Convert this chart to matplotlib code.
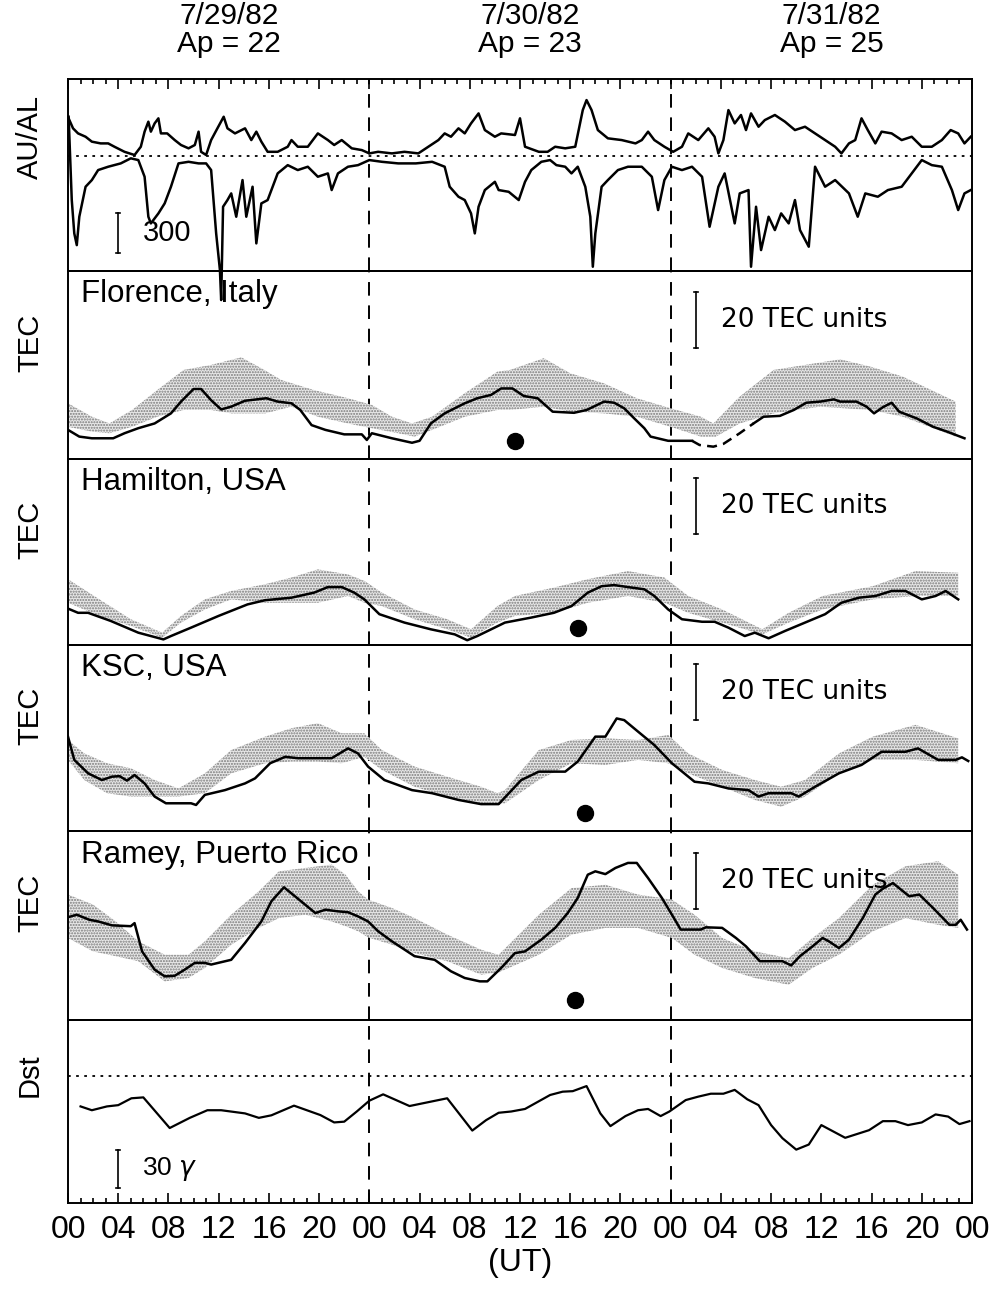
"""Auroral indices, TEC at four stations and Dst, 29-31 July 1982."""

import numpy as np
import matplotlib
matplotlib.use("Agg")
import matplotlib.pyplot as plt

# --- header ---
DAYS = ["7/29/82", "7/30/82", "7/31/82"]
AP = [22, 23, 25]

# --- AU / AL (nT), hours from 00 UT 7/29 ---
AU_H = [0.05, 0.4, 0.8, 1.4, 1.9, 2.6, 3.2, 3.7, 4.5, 5.3,
        5.8, 6.1, 6.4, 6.6, 6.9, 7.2, 7.4, 7.9, 8.5, 9.0,
        9.6, 10.1, 10.4, 10.6, 11.0, 11.4, 11.9, 12.4, 12.7, 13.3,
        14.1, 14.6, 15.0, 15.4, 15.9, 16.7, 17.5, 17.8, 18.3, 19.1,
        19.9, 20.7, 21.2, 21.8, 22.6, 23.4, 24.0, 24.7, 25.8, 26.8,
        27.9, 28.7, 29.5, 30.0, 30.5, 31.1, 31.6, 32.1, 32.7, 33.2,
        34.0, 34.5, 35.6, 36.0, 36.4, 37.5, 38.2, 38.8, 39.6, 40.4,
        41.0, 41.3, 41.7, 42.2, 43.0, 44.1, 45.2, 45.7, 46.2, 46.7,
        47.5, 48.2, 48.9, 49.4, 50.2, 51.0, 51.5, 51.8, 52.2, 52.6,
        53.1, 53.6, 54.0, 54.4, 55.0, 55.5, 56.3, 57.1, 57.9, 58.7,
        59.5, 60.3, 61.1, 61.6, 62.2, 62.7, 63.2, 63.7, 64.3, 64.8,
        65.6, 66.4, 67.2, 68.0, 68.8, 69.6, 70.3, 70.9, 71.4, 71.9]
AU_NT = [283, 208, 170, 145, 108, 95, 95, 70, 32, 8,
         70, 183, 258, 183, 245, 283, 170, 170, 120, 83,
         58, 83, 183, 32, 8, 120, 208, 295, 208, 170,
         208, 120, 183, 108, 32, 32, 70, 120, 70, 70,
         170, 120, 83, 120, 58, 45, 20, 32, 20, 32,
         20, 70, 120, 170, 145, 208, 170, 245, 320, 195,
         145, 170, 158, 283, 70, 32, 32, 70, 58, 70,
         345, 420, 345, 195, 133, 120, 95, 120, 183, 120,
         70, 32, 70, 170, 120, 208, 145, 20, 120, 345,
         245, 308, 195, 320, 220, 270, 308, 258, 195, 220,
         170, 120, 70, 20, 95, 120, 283, 195, 95, 183,
         170, 120, 145, 70, 70, 120, 195, 170, 95, 145]

AL_H = [0.05, 0.3, 0.5, 0.7, 0.9, 1.4, 1.9, 2.4, 3.2, 4.2,
        5.0, 5.6, 6.1, 6.4, 6.6, 7.2, 7.7, 8.2, 8.8, 9.6,
        10.4, 11.0, 11.4, 11.8, 12.1, 12.2, 12.35, 12.7, 13.0, 13.4,
        13.9, 14.2, 14.7, 15.0, 15.4, 15.9, 16.7, 17.5, 18.3, 19.1,
        19.9, 20.7, 21.0, 21.5, 22.3, 23.1, 24.0, 25.0, 26.3, 27.7,
        29.0, 30.0, 30.4, 31.1, 31.6, 32.1, 32.4, 32.7, 33.2, 34.0,
        34.3, 35.1, 35.9, 36.4, 36.9, 37.7, 38.4, 38.9, 39.6, 40.1,
        40.6, 41.2, 41.6, 41.8, 42.0, 42.5, 43.0, 43.8, 44.6, 45.7,
        46.5, 47.0, 47.5, 48.1, 48.9, 49.7, 50.5, 51.1, 51.8, 52.3,
        53.1, 53.5, 54.2, 54.4, 54.8, 55.2, 55.8, 56.3, 56.8, 57.4,
        57.9, 58.3, 59.0, 59.5, 60.3, 61.1, 62.2, 62.9, 63.5, 64.5,
        65.3, 66.4, 67.2, 68.0, 68.8, 69.6, 70.4, 70.9, 71.4, 71.9]
AL_NT = [295, -330, -580, -668, -455, -230, -180, -105, -80, -55,
         -17, -30, -155, -455, -505, -430, -355, -230, -55, -43,
         -55, -55, -105, -580, -855, -1080, -380, -330, -280, -455,
         -180, -455, -230, -655, -355, -330, -130, -68, -105, -80,
         -155, -130, -255, -130, -80, -68, -30, -43, -55, -55,
         -43, -80, -230, -305, -330, -430, -580, -380, -255, -193,
         -255, -268, -330, -193, -105, -43, -30, -68, -80, -130,
         -80, -230, -455, -830, -580, -230, -180, -105, -80, -80,
         -155, -405, -180, -80, -105, -80, -155, -530, -230, -130,
         -505, -280, -255, -830, -380, -705, -455, -555, -430, -505,
         -330, -555, -680, -80, -230, -180, -280, -455, -280, -305,
         -255, -230, -130, -30, -68, -80, -255, -405, -280, -255]

# --- TEC (TEC units above panel floor) ---
FLOR_H = [0, 0.9, 1.9, 3.6, 4.5, 5.6, 6.9, 8.2, 9.0, 10.0,
          10.6, 11.4, 12.2, 13.0, 14.1, 15.8, 16.7, 17.8, 18.5, 19.4,
          20.5, 22.0, 23.4, 23.8, 24.2, 25.8, 27.4, 28.0, 28.9, 30.0,
          31.6, 32.6, 33.7, 34.5, 35.4, 36.3, 37.4, 38.6, 40.3, 41.3,
          42.7, 43.5, 44.3, 45.1, 45.9, 46.4, 47.8, 49.7, 50.3, 51.4,
          52.2, 53.5, 54.6, 55.4, 56.7, 57.8, 58.8, 59.9, 61.0, 61.5,
          62.8, 63.6, 64.2, 64.9, 65.6, 66.2, 67.6, 68.9, 70.0, 71.4]
FLOR_TEC = [10.4, 8.0, 7.4, 7.4, 9.2, 11.0, 12.7, 16.3, 20.5, 25.0,
            25.0, 21.0, 17.7, 18.7, 20.8, 21.7, 20.5, 19.9, 17.5, 12.1,
            10.4, 8.8, 8.8, 6.8, 9.2, 7.4, 5.8, 6.5, 12.7, 16.3,
            19.9, 21.7, 22.9, 25.2, 25.2, 22.5, 21.7, 16.9, 16.5, 17.5,
            20.5, 20.1, 18.1, 14.5, 11.0, 8.0, 6.5, 6.5, 5.0, 4.4,
            5.4, 9.2, 12.7, 15.1, 15.4, 17.5, 20.1, 20.5, 21.3, 20.5,
            20.5, 18.7, 16.3, 18.5, 20.1, 16.9, 14.5, 11.5, 9.8, 7.4]
FLOR_DASHED = (49.7, 54.6)
FLOR_TOP_H = [0, 1.9, 3.3, 5.1, 7.1, 9.2, 11.4, 13.8, 15.4, 17.0, 19.6,
              22.3, 24.2, 25.8, 27.4, 29.0, 31.6, 34.2, 35.2, 37.9, 40.0,
              42.7, 45.3, 48.0, 50.4, 51.4, 53.5, 56.2, 61.5, 63.9, 66.5, 70.7]
FLOR_TOP = [19.9, 15.1, 12.7, 17.5, 24.6, 31.8, 33.6, 36.3, 32.4, 28.2, 24.6,
            21.7, 19.3, 15.1, 12.7, 15.1, 23.5, 31.2, 31.8, 36.0, 30.6,
            27.0, 21.7, 18.1, 15.1, 12.7, 22.3, 31.8, 35.6, 33.0, 29.4, 20.5]
FLOR_BOT_H = [0, 1.9, 3.3, 5.1, 7.1, 9.2, 11.4, 13.0, 15.7, 17.8, 19.9,
              22.3, 24.2, 26.3, 27.6, 29.0, 31.6, 34.2, 35.2, 37.9, 40.0,
              42.7, 45.3, 48.0, 50.4, 51.6, 53.5, 56.2, 59.9, 63.9, 66.5, 70.7]
FLOR_BOT = [11.5, 9.8, 9.2, 11.5, 15.1, 17.5, 17.5, 16.3, 16.3, 18.7, 15.1,
            12.7, 11.0, 9.2, 8.0, 10.4, 15.1, 17.5, 17.5, 18.7, 16.9,
            16.3, 15.1, 11.5, 8.0, 8.0, 12.7, 16.3, 18.7, 17.5, 15.1, 8.0]

HAM_H = [0, 0.8, 1.6, 3.4, 5.6, 7.6, 8.2, 9.8, 12.0, 14.3,
         15.7, 17.8, 19.6, 20.7, 21.8, 22.8, 23.6, 24.8, 26.8, 28.9,
         30.8, 31.8, 32.6, 34.8, 36.9, 38.7, 40.1, 41.4, 42.5, 43.5,
         44.9, 45.9, 46.7, 47.8, 48.9, 50.5, 51.5, 52.6, 53.9, 54.7,
         55.8, 57.1, 58.7, 60.3, 61.6, 63.0, 64.3, 65.6, 66.7, 68.0,
         69.1, 69.9, 70.9]
HAM_TEC = [13.0, 11.5, 11.5, 8.6, 4.4, 2.0, 3.2, 6.2, 10.4, 14.5,
           16.0, 16.9, 18.7, 20.7, 20.7, 18.7, 16.3, 11.0, 8.0, 5.6,
           3.8, 1.7, 3.2, 8.0, 9.8, 11.5, 13.9, 18.7, 21.0, 21.4,
           20.5, 19.9, 17.5, 12.7, 9.2, 8.3, 8.3, 6.2, 3.2, 4.4,
           2.4, 5.0, 8.0, 11.0, 15.1, 16.9, 17.5, 19.3, 19.3, 16.3,
           17.5, 19.3, 16.3]
HAM_BAND_H = [0, 2.5, 5.0, 7.5, 9.0, 10.9, 13.0, 15.7, 17.8, 19.9,
              22.3, 23.6, 25.0, 27.6, 30.2, 32.1, 34.2, 35.6, 38.7, 41.4,
              44.6, 47.5, 49.4, 52.1, 55.3, 57.4, 60.1, 64.1, 67.5, 70.9]
HAM_TOP = [23.5, 16.3, 9.2, 4.4, 10.4, 16.3, 19.3, 21.7, 24.1, 27.0,
           25.2, 22.9, 18.7, 12.7, 9.2, 5.6, 13.9, 17.5, 20.5, 23.5,
           26.4, 24.1, 17.5, 12.7, 5.6, 11.5, 17.5, 21.0, 26.4, 25.8]
HAM_BOT = [15.1, 10.4, 6.8, 2.6, 8.0, 12.7, 16.3, 15.1, 15.1, 15.1,
           17.5, 15.1, 13.9, 9.2, 5.6, 2.6, 8.0, 10.4, 11.5, 15.1,
           17.5, 15.1, 11.5, 8.0, 3.8, 8.0, 12.7, 16.3, 17.5, 17.5]

KSC_H = [0, 0.5, 1.6, 2.7, 3.5, 4.1, 4.7, 5.3, 6.1, 6.9,
         7.8, 9.8, 10.2, 10.9, 12.5, 14.1, 14.9, 16.1, 17.3, 18.3,
         21.0, 22.3, 23.1, 23.9, 25.2, 27.4, 29.0, 31.1, 32.9, 34.3,
         36.1, 37.5, 39.6, 40.6, 42.0, 42.8, 43.7, 44.3, 45.4, 46.7,
         48.1, 49.9, 51.0, 52.6, 54.2, 55.0, 55.8, 57.6, 58.2, 59.5,
         61.4, 63.2, 64.8, 66.7, 67.7, 69.3, 70.7, 71.2, 71.7]
KSC_TEC = [33.7, 25.4, 20.6, 18.2, 19.4, 19.6, 18.0, 20.0, 17.0, 12.3,
           9.9, 9.9, 9.3, 12.9, 14.6, 17.0, 18.8, 24.2, 26.5, 26.0,
           26.0, 29.5, 27.7, 23.0, 18.2, 14.6, 13.5, 11.1, 9.6, 9.6,
           18.2, 21.2, 21.2, 24.8, 33.7, 33.7, 40.2, 39.6, 35.5, 30.7,
           24.2, 17.6, 17.0, 15.2, 14.6, 12.3, 13.5, 13.5, 12.3, 15.8,
           20.6, 23.6, 28.3, 28.3, 29.5, 25.4, 25.4, 26.3, 25.0]
KSC_BAND_H = [0, 1.3, 3.1, 5.0, 6.9, 8.8, 10.9, 13.0, 15.7, 17.8,
              19.9, 21.8, 23.6, 25.0, 27.6, 30.2, 32.9, 34.2, 34.8, 37.5,
              40.1, 42.8, 45.4, 47.8, 49.4, 52.1, 54.7, 56.8, 58.7, 61.4,
              64.1, 67.5, 70.9]
KSC_TOP = [32.5, 27.7, 24.2, 22.4, 18.2, 15.2, 20.6, 28.9, 33.7, 36.7,
           38.5, 34.9, 34.9, 28.9, 23.0, 19.4, 15.8, 13.5, 14.6, 28.9,
           32.5, 33.1, 32.5, 34.3, 27.7, 21.8, 18.2, 15.8, 18.2, 27.7,
           33.7, 37.9, 33.1]
KSC_BOT = [25.4, 18.2, 13.5, 12.3, 12.3, 12.3, 13.5, 20.6, 24.2, 24.8,
           24.8, 24.2, 26.5, 21.8, 15.8, 12.3, 9.9, 9.9, 9.9, 18.2,
           24.2, 23.6, 25.4, 24.2, 20.6, 15.8, 11.1, 8.7, 12.3, 20.6,
           25.4, 25.4, 24.2]

RAM_H = [0, 0.7, 1.7, 2.4, 3.5, 5.0, 5.3, 5.9, 6.9, 7.7,
         8.5, 9.3, 10.1, 10.9, 11.4, 13.0, 14.1, 15.4, 16.2, 17.2,
         18.4, 19.7, 20.5, 21.5, 22.3, 23.1, 23.9, 24.7, 25.8, 27.6,
         29.2, 30.5, 31.6, 32.8, 33.4, 34.5, 35.6, 36.4, 37.7, 38.8,
         39.8, 40.6, 41.4, 42.0, 42.8, 43.6, 44.6, 45.3, 46.2, 47.3,
         48.1, 48.8, 50.4, 50.8, 52.1, 53.2, 54.0, 55.1, 56.9, 57.6,
         58.3, 59.3, 60.1, 60.6, 61.4, 62.2, 63.3, 64.3, 64.9, 65.7,
         67.0, 67.8, 68.9, 70.2, 70.7, 71.1, 71.6]
RAM_TEC = [36.7, 37.6, 35.8, 35.2, 33.8, 33.5, 34.6, 24.5, 18.0, 15.6,
           15.8, 18.0, 20.4, 20.4, 19.8, 21.5, 27.5, 35.2, 42.4, 47.4,
           43.0, 38.2, 39.4, 38.8, 38.5, 37.0, 35.2, 31.7, 28.1, 22.8,
           21.5, 17.4, 15.0, 13.8, 13.8, 18.6, 23.9, 24.5, 28.7, 32.9,
           38.2, 43.6, 51.9, 53.1, 52.1, 54.3, 56.1, 56.1, 50.7, 43.6,
           37.6, 32.3, 32.3, 33.1, 32.9, 29.3, 26.3, 21.0, 21.0, 19.5,
           22.8, 26.3, 29.3, 28.1, 25.7, 28.7, 36.4, 44.8, 46.9, 48.9,
           44.2, 44.8, 40.0, 34.0, 34.0, 35.8, 32.3]
RAM_BAND_H = [0, 2.0, 3.8, 5.6, 7.7, 9.6, 10.9, 13.0, 15.2, 16.8,
              18.9, 21.0, 22.1, 23.1, 23.9, 25.8, 27.6, 30.2, 32.9, 34.3,
              37.5, 40.1, 42.8, 45.4, 48.1, 49.9, 52.1, 54.7, 57.4, 59.3,
              61.4, 64.1, 66.7, 69.3, 70.9]
RAM_TOP = [44.8, 41.2, 35.2, 28.1, 23.3, 23.3, 28.1, 37.6, 46.0, 53.1,
           54.3, 55.5, 51.9, 46.0, 43.0, 40.0, 36.4, 30.5, 25.1, 23.3,
           37.6, 47.1, 48.3, 44.8, 43.0, 37.6, 29.3, 24.5, 22.1, 29.3,
           36.4, 48.3, 54.9, 56.7, 51.9]
RAM_BOT = [29.3, 24.5, 22.8, 21.0, 13.8, 15.0, 18.6, 26.9, 32.9, 36.4,
           37.6, 35.2, 33.5, 31.7, 29.5, 26.9, 23.9, 21.0, 16.2, 17.0,
           23.3, 30.5, 32.9, 32.9, 29.3, 23.3, 18.6, 15.0, 12.6, 18.6,
           23.3, 31.7, 36.4, 34.0, 32.9]

# filled-circle markers (hour, TEC)
DOTS = {"Florence, Italy": (35.6, 6.3), "Hamilton, USA": (40.6, 6.2),
        "KSC, USA": (41.2, 6.3), "Ramey, Puerto Rico": (40.4, 7.0)}

# --- Dst (nT) ---
DST_H = [1.0, 1.9, 3.1, 4.0, 5.05, 6.0, 8.1, 9.7, 11.1, 12.2,
         14.1, 15.2, 16.2, 18.0, 20.1, 21.2, 22.0, 23.0, 24.0, 25.1,
         27.2, 30.2, 32.2, 33.3, 34.3, 35.3, 36.4, 38.4, 39.4, 40.2,
         41.3, 42.4, 43.2, 44.4, 45.4, 46.2, 47.2, 47.9, 49.2, 50.2,
         51.2, 52.2, 53.1, 54.1, 55.0, 56.0, 56.9, 58.0, 59.0, 60.0,
         61.9, 63.8, 64.9, 65.9, 66.9, 68.0, 69.1, 70.1, 71.0, 71.8]
DST_NT = [-24, -27, -24, -23, -17.6, -16.9, -41, -33, -27, -27,
          -29.5, -33, -31, -23.4, -30.8, -36.6, -36, -28, -19.5, -14.5,
          -23.7, -17.6, -43, -34.8, -29, -28, -26, -15, -12.4, -12,
          -8, -29.5, -39.5, -31.6, -27, -26, -31.6, -28, -19, -16.3,
          -14, -14, -11, -18.4, -23, -38.7, -49, -58, -54, -38.7,
          -48.7, -42.7, -35.6, -35.6, -38.7, -36.6, -30.3, -32, -37.9, -35.6]

# --- layout (pixels of the 996 x 1295 canvas) ---
W, H = 996, 1295
LEFT, RIGHT = 68, 972
EDGES = [79, 271, 459, 645, 831, 1020, 1203]
PX_PER_TEC = 2.8
AUAL_YLIM = (-862, 578)
DST_YLIM = (-100, 44)

SANS = ["Liberation Sans", "DejaVu Sans"]
LW = 1.8


def rect(top, bottom):
    return [LEFT / W, 1 - bottom / H, (RIGHT - LEFT) / W, (bottom - top) / H]


def day_lines(ax):
    for h in (24, 48):
        ax.axvline(h, color="k", lw=1.4, ls=(0, (7, 5)), zorder=1)


def scale_bar(ax, x, y0, y1):
    ax.plot([x, x], [y0, y1], color="k", lw=1.2)
    ax.plot([x - 0.15, x + 0.15], [y0, y0], color="k", lw=1.2)
    ax.plot([x - 0.15, x + 0.15], [y1, y1], color="k", lw=1.2)


def tec_panel(ax, name, h, tec, top_h, top, bot_h, bot, dashed=None):
    ax.fill(np.r_[top_h, bot_h[::-1]], np.r_[top, bot[::-1]],
            facecolor="#e8e8e8", edgecolor="#7a7a7a", hatch="......",
            lw=0, zorder=2)
    h = np.asarray(h)
    tec = np.asarray(tec, dtype=float)
    if dashed is None:
        ax.plot(h, tec, color="k", lw=LW, zorder=3)
    else:
        a, b = dashed
        solid = np.where((h <= a) | (h >= b), tec, np.nan)
        dash = np.where((h >= a) & (h <= b), tec, np.nan)
        ax.plot(h, solid, color="k", lw=LW, zorder=3)
        ax.plot(h, dash, color="k", lw=LW, ls=(0, (4, 2.5)), zorder=3)
    dx, dy = DOTS[name]
    ax.plot(dx, dy, "o", color="k", ms=11.5, zorder=4)
    ax.text(1.0, 0.955, name, transform=ax.get_xaxis_transform(),
            family=SANS, fontsize=22.5, va="top", ha="left", zorder=5)
    scale_bar(ax, 50.0, 39.5, 59.5)
    ax.text(52.0, 49.5, "20 TEC units", family=["DejaVu Sans"],
            fontsize=19, va="center", ha="left", zorder=5)


def main():
    plt.rcParams["mathtext.fontset"] = "dejavusans"
    fig = plt.figure(figsize=(W / 100, H / 100), dpi=100)
    axes = []
    for i in range(6):
        ax = fig.add_axes(rect(EDGES[i], EDGES[i + 1]))
        ax.set_facecolor("none")
        ax.set_xlim(0, 72)
        ax.set_xticks([])
        ax.set_yticks([])
        for s in ax.spines.values():
            s.set_linewidth(1.4)
        day_lines(ax)
        axes.append(ax)

    # AU / AL
    ax = axes[0]
    ax.set_zorder(10)
    ax.set_ylim(*AUAL_YLIM)
    ax.axhline(0, color="k", lw=1.3, ls=(0, (1.5, 3)))
    ax.plot(AU_H, AU_NT, color="k", lw=LW)
    ax.plot(AL_H, AL_NT, color="k", lw=LW, clip_on=False)
    scale_bar(ax, 4.0, -728, -428)
    ax.text(6.0, -577, "300", family=SANS, fontsize=21, va="center")
    ax.xaxis.set_ticks_position("top")
    ax.set_xticks(np.arange(0, 73, 4))
    ax.set_xticks(np.arange(0, 73, 1), minor=True)
    ax.tick_params(axis="x", which="both", direction="in", labeltop=False,
                   labelbottom=False, width=1.2)
    ax.tick_params(axis="x", which="major", length=7)
    ax.tick_params(axis="x", which="minor", length=3.5)
    for k, (d, ap) in enumerate(zip(DAYS, AP)):
        xh = 12.8 + 24 * k
        ax.text(xh, 1 + 63 / 192, d, transform=ax.get_xaxis_transform(),
                family=SANS, fontsize=21.5, ha="center", va="center")
        ax.text(xh, 1 + 35 / 192, f"Ap = {ap}",
                transform=ax.get_xaxis_transform(),
                family=SANS, fontsize=21.5, ha="center", va="center")

    stations = [
        ("Florence, Italy", FLOR_H, FLOR_TEC, FLOR_TOP_H, FLOR_TOP,
         FLOR_BOT_H, FLOR_BOT, FLOR_DASHED),
        ("Hamilton, USA", HAM_H, HAM_TEC, HAM_BAND_H, HAM_TOP,
         HAM_BAND_H, HAM_BOT, None),
        ("KSC, USA", KSC_H, KSC_TEC, KSC_BAND_H, KSC_TOP,
         KSC_BAND_H, KSC_BOT, None),
        ("Ramey, Puerto Rico", RAM_H, RAM_TEC, RAM_BAND_H, RAM_TOP,
         RAM_BAND_H, RAM_BOT, None),
    ]
    for i, st in enumerate(stations, start=1):
        ax = axes[i]
        ax.set_ylim(0, (EDGES[i + 1] - EDGES[i]) / PX_PER_TEC)
        tec_panel(ax, *st)

    # Dst
    ax = axes[5]
    ax.set_ylim(*DST_YLIM)
    ax.axhline(0, color="k", lw=1.3, ls=(0, (1.5, 3)))
    ax.plot(DST_H, DST_NT, color="k", lw=1.6)
    scale_bar(ax, 4.0, -88.5, -58.5)
    ax.text(5.9, -73, "30 $\\gamma$", family=SANS, fontsize=19, va="center")
    ax.set_xticks(np.arange(0, 73, 4))
    ax.set_xticks(np.arange(0, 73, 1), minor=True)
    ax.set_xticklabels([f"{h % 24:02d}" for h in range(0, 73, 4)],
                       family=SANS, fontsize=23)
    ax.tick_params(axis="x", which="both", direction="in", width=1.2, pad=9)
    ax.tick_params(axis="x", which="major", length=7)
    ax.tick_params(axis="x", which="minor", length=3.5)
    ax.text(0.5, -0.33, "(UT)", transform=ax.transAxes, family=SANS,
            fontsize=23, ha="center", va="center")

    # panel labels
    labels = ["AU/AL", "TEC", "TEC", "TEC", "TEC", "Dst"]
    for i, lab in enumerate(labels):
        frac = 0.3 if i in (0, 5) else 0.38
        yc = EDGES[i] + frac * (EDGES[i + 1] - EDGES[i])
        fig.text(30 / W, 1 - yc / H, lab, rotation=90, family=SANS,
                 fontsize=21, ha="center", va="center")

    fig.savefig("out.png", dpi=100)


if __name__ == "__main__":
    main()
